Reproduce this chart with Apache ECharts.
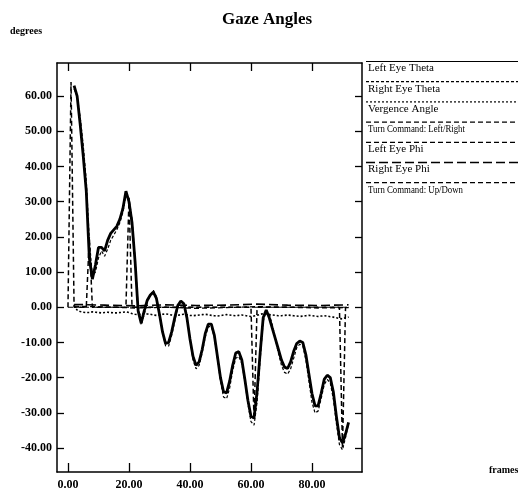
<!DOCTYPE html>
<html>
<head>
<meta charset="utf-8">
<script src="https://cdn.jsdelivr.net/npm/echarts@6/dist/echarts.min.js"></script>
<style>
html,body{margin:0;padding:0;background:#fff;}
#chart{width:518px;height:494px;}
</style>
</head>
<body>
<div id="chart"></div>
<script>
const frames = [
  0,1,2,3,4,5,6,7,8,9,
  10,11,12,13,14,15,16,17,18,19,
  20,21,22,23,24,25,26,27,28,29,
  30,31,32,33,34,35,36,37,38,39,
  40,41,42,43,44,45,46,47,48,49,
  50,51,52,53,54,55,56,57,58,59,
  60,61,62,63,64,65,66,67,68,69,
  70,71,72,73,74,75,76,77,78,79,
  80,81,82,83,84,85,86,87,88,89,
  90,91,92
];
const leftEyeTheta = [
  null,null,63,60,52,43,33,14,8,12,
  17,17,16,19,21,22,23,25,28,33,
  30,24,13,-1,-4.5,-1,2,3.5,4.3,2.5,
  -2,-7,-10.3,-10,-7,-3,0.5,1.8,1,-3,
  -9,-14,-16.5,-15.5,-12,-7.5,-4.8,-4.8,-8,-14,
  -20,-24,-24.3,-21,-16.5,-13,-12.6,-15,-20.5,-26.5,
  -31,-31.5,-24,-13,-3,-0.8,-3,-6,-9,-12,
  -15,-17,-17.4,-15.5,-12.5,-10.3,-9.6,-10,-13.5,-19,
  -24.5,-28,-28,-24.5,-20.5,-19.3,-20,-24,-31,-37,
  -38.5,-36,-32.7
];
const rightEyeTheta = [
  null,null,62,60,54,46,36,19,9,10,
  14,16,14.5,16.5,19,20.5,22,24,27,32,
  31,25,14,0,-5,-2,1.5,3.5,4.8,3,
  -1.5,-7,-11,-11,-8,-4,0,1.5,1.2,-2.5,
  -9,-15,-17.5,-16.5,-13,-8.5,-5.5,-5.5,-8.5,-14.5,
  -21,-25.5,-26,-23,-18,-14.5,-14,-16,-21,-27.5,
  -32.5,-33.5,-27,-15,-4,-1,-2,-5,-9,-13,
  -16.5,-18.5,-19,-17.5,-14.5,-11.5,-10.5,-11,-15,-21,
  -27,-30,-29.5,-26,-22,-20.5,-21.5,-26,-33,-39,
  -40.5,-37,-33
];
const vergenceAngle = [
  null,null,0.5,-0.8,-1.2,-1.4,-1.5,-1.5,-1.3,-1.4,
  -1.5,-1.6,-1.5,-1.4,-1.5,-1.6,-1.6,-1.5,-1.4,-1.3,
  -1.5,-1.8,-2.0,-2.1,-2.0,-1.8,-1.9,-2.0,-2.2,-2.3,
  -2.2,-2.0,-1.9,-2.0,-2.2,-2.4,-2.3,-2.1,-2.0,-2.1,
  -2.3,-2.4,-2.3,-2.2,-2.1,-2.0,-2.1,-2.3,-2.4,-2.5,
  -2.4,-2.2,-2.1,-2.2,-2.3,-2.4,-2.3,-2.2,-2.3,-2.5,
  -2.6,-2.5,-2.3,-2.0,-1.8,-1.9,-2.1,-2.2,-2.3,-2.4,
  -2.4,-2.3,-2.2,-2.3,-2.4,-2.5,-2.6,-2.5,-2.4,-2.3,
  -2.4,-2.5,-2.6,-2.5,-2.4,-2.5,-2.7,-2.8,-3.0,-3.2,
  -3.3,-3.0,-2.8
];
const turnLRFrames = [0,1,2,6,7,8,19,20,21,60,61,62,89,90,91,92];
const turnLR       = [0,64,0,0,20,0,0,31,0,0,-32,0,0,-40,0,0];
const phiFrames = [2,12,22,32,42,52,62,72,82,92];
const leftEyePhi  = [0.3,0.1,-0.2,0,-0.3,-0.1,0.2,0,-0.2,-0.1];
const rightEyePhi = [0.8,0.6,0.4,0.7,0.5,0.6,0.9,0.6,0.5,0.7];
const turnUDFrames = [0,92];
const turnUD = [0,0];
const xTicks = [0,20,40,60,80];
const yTicks = [-40,-30,-20,-10,0,10,20,30,40,50,60];
const seriesNames = ['Left Eye Theta','Right Eye Theta','Vergence Angle','Turn Command: Left/Right','Left Eye Phi','Right Eye Phi','Turn Command: Up/Down'];

const FONT = '"Liberation Serif","Times New Roman",serif';
const pair = (xs, ys) => xs.map((x, i) => [x, ys[i]]);
const styles = [
  {type:'solid', width:2.8},
  {type:[3,2], width:1.2},
  {type:[2,2], width:1.6},
  {type:[5,3], width:1.5},
  {type:[5,3], width:1.3},
  {type:[9,4], width:1.6},
  {type:[5,3], width:1.1}
];
const dataSets = [
  pair(frames, leftEyeTheta),
  pair(frames, rightEyeTheta),
  pair(frames, vergenceAngle),
  pair(turnLRFrames, turnLR),
  pair(phiFrames, leftEyePhi),
  pair(phiFrames, rightEyePhi),
  pair(turnUDFrames, turnUD)
];
const series = seriesNames.map((n, i) => ({
  name: n, type: 'line', data: dataSets[i], symbol: 'none', showSymbol: false,
  connectNulls: false, silent: true, z: 10 - i,
  lineStyle: {color: '#000', width: styles[i].width, type: styles[i].type}
}));

const axisLine = {show: true, onZero: false, lineStyle: {color: '#000', width: 1.5}};
const tickStyle = {color: '#000', width: 1.3};
const xMin = -3.6, xMax = 96.4, yMin = -46.8, yMax = 69.4;

const legendGraphics = [];
const legTop = 68.5, legStep = 20.2;
seriesNames.forEach((n, i) => {
  const yc = legTop + i * legStep;
  const narrow = n.indexOf('Turn') === 0;
  legendGraphics.push({
    type: 'line', shape: {x1: 366, y1: yc - 7, x2: 518, y2: yc - 7},
    style: {stroke: '#000', lineWidth: i === 5 ? 1.6 : 1.2, lineDash: i === 0 ? null : styles[i].type}
  });
  legendGraphics.push({
    type: 'text', x: 368, y: yc, scaleX: narrow ? 0.8 : 1, scaleY: 1,
    style: {text: n, font: '11px ' + FONT, fill: '#000', verticalAlign: 'middle'}
  });
});

const chart = echarts.init(document.getElementById('chart'), null, {renderer: 'canvas'});
chart.setOption({
  animation: false,
  backgroundColor: '#fff',
  title: {
    text: 'Gaze Angles', left: 217, top: 6,
    textStyle: {fontFamily: FONT, fontWeight: 'bold', fontSize: 17, color: '#000'}
  },
  grid: {left: 57, top: 63, width: 305, height: 409, containLabel: false},
  xAxis: [
    {type: 'value', position: 'bottom', min: xMin, max: xMax, axisLine: axisLine,
     axisTick: {show: true, inside: true, length: 9, customValues: xTicks, lineStyle: tickStyle},
     axisLabel: {show: true, customValues: xTicks, margin: 7, formatter: v => Number(v).toFixed(2),
       fontFamily: FONT, fontWeight: 'bold', fontSize: 12, color: '#000'},
     splitLine: {show: false}},
    {type: 'value', position: 'top', min: xMin, max: xMax, axisLine: axisLine,
     axisTick: {show: true, inside: true, length: 8, customValues: xTicks, lineStyle: tickStyle},
     axisLabel: {show: false}, splitLine: {show: false}}
  ],
  yAxis: [
    {type: 'value', position: 'left', min: yMin, max: yMax, axisLine: axisLine,
     axisTick: {show: true, inside: true, length: 7, customValues: yTicks, lineStyle: tickStyle},
     axisLabel: {show: true, customValues: yTicks, margin: 5, formatter: v => Number(v).toFixed(2),
       fontFamily: FONT, fontWeight: 'bold', fontSize: 12, color: '#000'},
     splitLine: {show: false}},
    {type: 'value', position: 'right', min: yMin, max: yMax, axisLine: axisLine,
     axisTick: {show: true, inside: true, length: 7, customValues: yTicks, lineStyle: tickStyle},
     axisLabel: {show: false}, splitLine: {show: false}}
  ],
  series: series,
  graphic: [
    {type: 'text', x: 10, y: 31, style: {text: 'degrees', font: 'bold 10px ' + FONT, fill: '#000', verticalAlign: 'middle'}},
    {type: 'text', x: 489, y: 470, style: {text: 'frames', font: 'bold 10px ' + FONT, fill: '#000', verticalAlign: 'middle'}}
  ].concat(legendGraphics)
});
</script>
</body>
</html>
